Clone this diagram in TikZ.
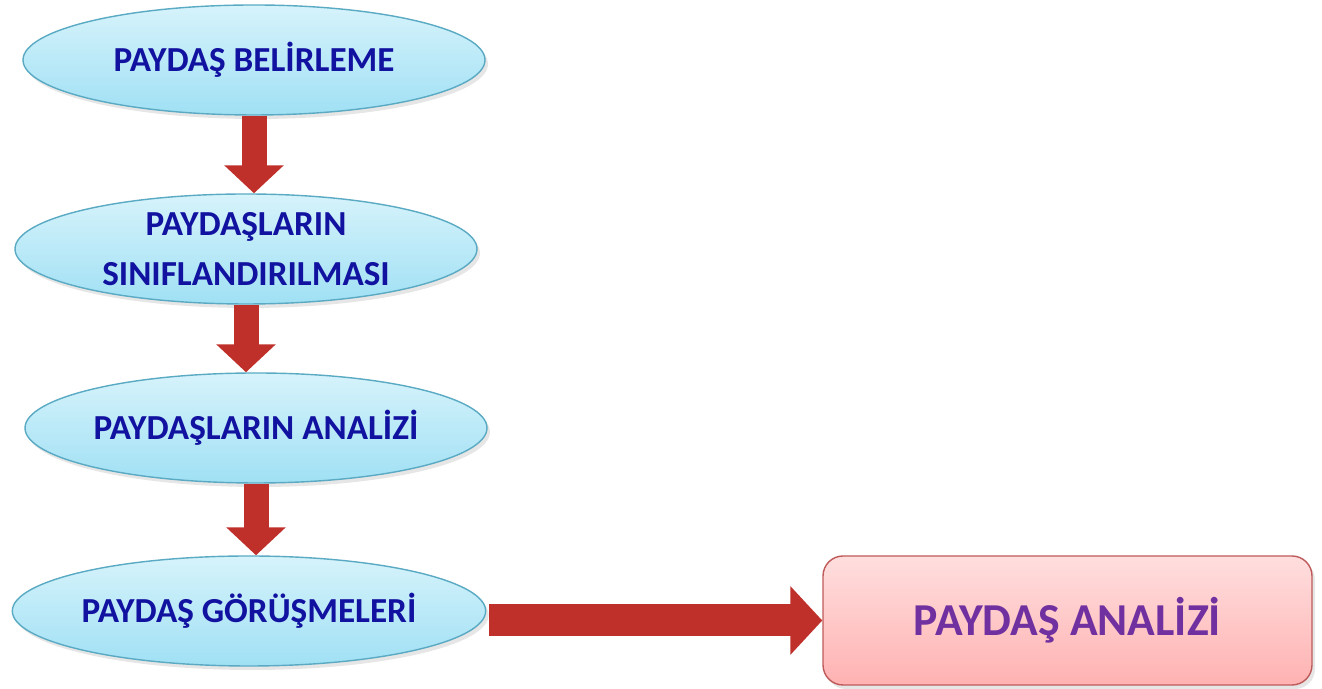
\documentclass[tikz,border=0pt]{standalone}
\usepackage{fontspec}
\setmainfont{Carlito}
\usepackage{xcolor}
\usetikzlibrary{arrows.meta,shapes.geometric,shadows,calc}

\definecolor{stepfill}{RGB}{214,243,251}
\definecolor{stepfilldark}{RGB}{160,224,244}
\definecolor{stepline}{RGB}{90,170,195}
\definecolor{steptext}{RGB}{18,18,160}
\definecolor{arrowred}{RGB}{192,48,42}
\definecolor{resultfill}{RGB}{255,222,222}
\definecolor{resultfilldark}{RGB}{255,178,178}
\definecolor{resultline}{RGB}{190,90,90}
\definecolor{resulttext}{RGB}{112,48,160}

\tikzset{
  stepnode/.style={ellipse, draw=stepline, line width=0.8pt,
    top color=stepfill, bottom color=stepfilldark,
    minimum width=9.24cm, minimum height=2.2cm, inner sep=0pt,
    text=steptext, align=center,
    font=\bfseries\fontsize{20}{28.5}\selectfont,
    drop shadow={opacity=0.2, shadow xshift=0.06cm, shadow yshift=-0.08cm}},
  resultnode/.style={rectangle, rounded corners=0.4cm, draw=resultline, line width=0.8pt,
    top color=resultfill, bottom color=resultfilldark,
    minimum width=9.78cm, minimum height=2.58cm,
    text=resulttext, font=\bfseries\fontsize{26}{30}\selectfont,
    drop shadow={opacity=0.2, shadow xshift=0.06cm, shadow yshift=-0.08cm}},
  flowarrow/.style={draw=arrowred, line width=0.5cm,
    -{Triangle[length=0.56cm, width=1.16cm]}},
  sidearrow/.style={draw=arrowred, line width=0.64cm,
    -{Triangle[length=0.64cm, width=1.34cm]}}
}

\begin{document}
\begin{tikzpicture}
          \useasboundingbox (0,0) rectangle (26.44,13.78);

          % Steps
          \node[stepnode] (e1) at (5.08,12.58) {PAYDAŞ BELİRLEME};
          \node[stepnode] (e2) at (4.92,8.80) {PAYDAŞLARIN\\SINIFLANDIRILMASI};
          \node[stepnode] (e3) at (5.12,5.22) {PAYDAŞLARIN ANALİZİ};
          \node[stepnode] (e4) at (4.98,1.56) {PAYDAŞ GÖRÜŞMELERİ};

          % Result
          \node[resultnode] (res) at (21.35,1.37) {PAYDAŞ ANALİZİ};

          % Arrows between steps
          \foreach \a/\b in {e1/e2, e2/e3, e3/e4} {
              \draw[flowarrow] (\a.south) -- (\a.south |- \b.north);
          }
          \draw[sidearrow, shorten <=0.06cm] (e4.east |- res.west) -- (res.west);
      \end{tikzpicture}
\end{document}
